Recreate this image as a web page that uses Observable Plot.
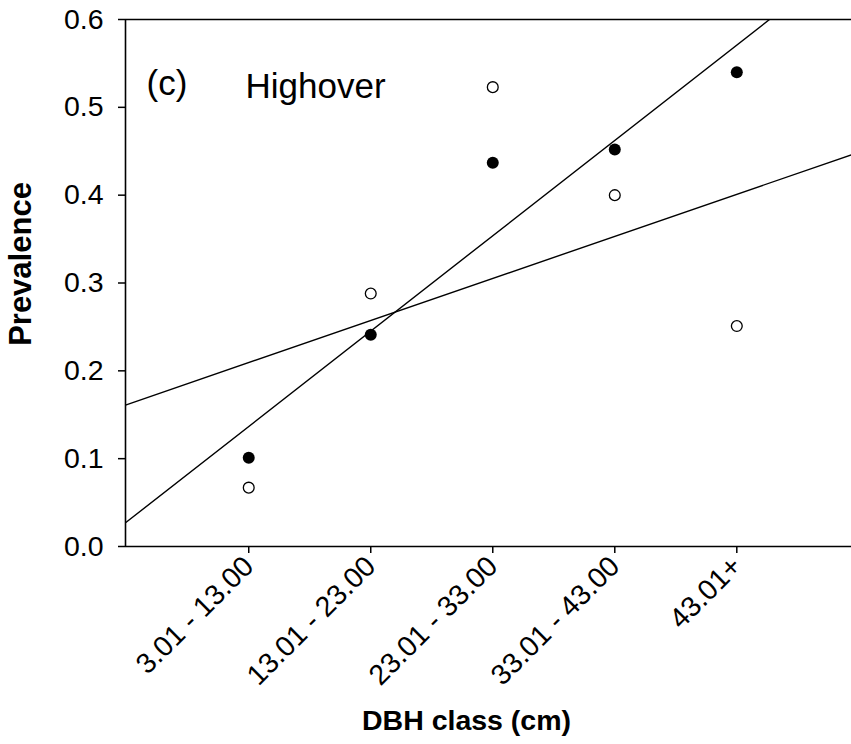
<!DOCTYPE html>
<html>
<head>
<meta charset="utf-8">
<script src="https://cdn.jsdelivr.net/npm/d3@7"></script>
<script src="https://cdn.jsdelivr.net/npm/@observablehq/plot@0.6"></script>
<style>
  html, body { margin: 0; padding: 0; background: #fff; }
  #chart svg { display: block; }
</style>
</head>
<body>
<div id="chart"></div>
<script>
// DBH class categories (x positions 0..4)
const categories = ["3.01 - 13.00", "13.01 - 23.00", "23.01 - 33.00", "33.01 - 43.00", "43.01+"];
const classIndex = [0, 1, 2, 3, 4];
// Prevalence, filled circles
const filledValues = [0.101, 0.241, 0.437, 0.452, 0.540];
// Prevalence, open circles
const openValues = [0.067, 0.288, 0.523, 0.400, 0.251];
// Fitted lines, read at the left and right edges of the plot area
const lineX = [-1.01, 4.94];
const steepLineY = [0.027, 0.673];
const shallowLineY = [0.161, 0.446];
const yTicks = [0, 0.1, 0.2, 0.3, 0.4, 0.5, 0.6];

const filled = classIndex.map((i) => ({x: i, y: filledValues[i]}));
const open = classIndex.map((i) => ({x: i, y: openValues[i]}));
const steep = lineX.map((x, i) => ({x, y: steepLineY[i]}));
const shallow = lineX.map((x, i) => ({x, y: shallowLineY[i]}));

const font = "Arial, 'Liberation Sans', Helvetica, sans-serif";

const chart = Plot.plot({
  width: 851,
  height: 744,
  marginLeft: 125,
  marginRight: 0,
  marginTop: 19,
  marginBottom: 198,
  style: {fontFamily: font, color: "#000", background: "#fff", overflow: "visible"},
  x: {type: "linear", domain: lineX, axis: null},
  y: {domain: [0, 0.6], axis: null},
  marks: [
    Plot.line(steep, {x: "x", y: "y", stroke: "#000", strokeWidth: 1.4, clip: true}),
    Plot.line(shallow, {x: "x", y: "y", stroke: "#000", strokeWidth: 1.4, clip: true}),
    Plot.axisY({ticks: yTicks, tickFormat: d3.format(".1f"), tickSize: 7, tickPadding: 15, fontSize: 28.5, label: null, stroke: "#000", strokeWidth: 1.5}),
    Plot.axisX({ticks: classIndex, tickFormat: (i) => categories[i], tickSize: 7, tickPadding: 8, tickRotate: -45, fontSize: 28.5, label: null, stroke: "#000", strokeWidth: 1.5}),
    Plot.ruleY([0, 0.6], {x1: lineX[0], x2: lineX[1], stroke: "#000", strokeWidth: 1.6}),
    Plot.ruleX([lineX[0]], {y1: 0, y2: 0.6, stroke: "#000", strokeWidth: 1.6}),
    Plot.dot(filled, {x: "x", y: "y", r: 6, fill: "#000", stroke: "none"}),
    Plot.dot(open, {x: "x", y: "y", r: 5.4, fill: "#fff", stroke: "#000", strokeWidth: 1.3}),
    Plot.text(["(c)"], {frameAnchor: "top-left", dx: 21, dy: 51, textAnchor: "start", lineAnchor: "top", fontSize: 35}),
    Plot.text(["Highover"], {frameAnchor: "top-left", dx: 120, dy: 54, textAnchor: "start", lineAnchor: "top", fontSize: 35}),
    Plot.text(["Prevalence"], {frameAnchor: "left", dx: -104, dy: -19, rotate: -90, textAnchor: "middle", lineAnchor: "middle", fontSize: 31, fontWeight: "bold"}),
    Plot.text(["DBH class (cm)"], {frameAnchor: "bottom", dx: -22, dy: 174, textAnchor: "middle", lineAnchor: "middle", fontSize: 28.5, fontWeight: "bold"})
  ]
});

document.getElementById("chart").appendChild(chart);
</script>
</body>
</html>
